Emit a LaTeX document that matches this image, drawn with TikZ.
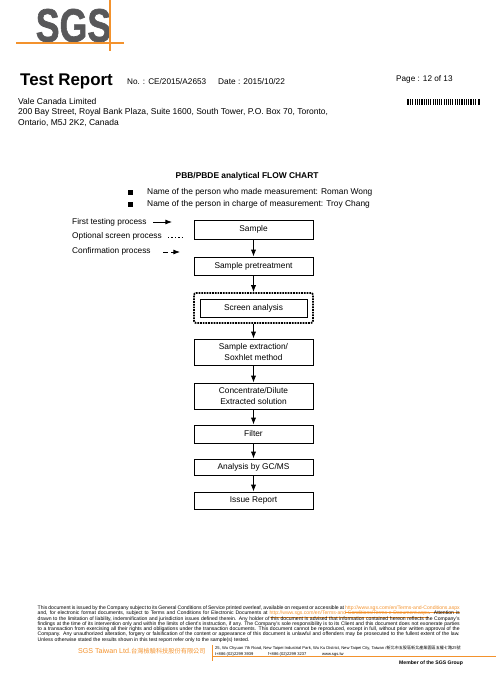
\documentclass[tikz,border=0pt]{standalone}
\usepackage{fontspec}
\setmainfont{Liberation Sans}
\newfontfamily\cjktc{Noto Sans CJK TC}
\newfontfamily\logofont[UprightFont={* Bold},FakeBold=1.5]{Liberation Sans}
\usetikzlibrary{arrows.meta}
\definecolor{sgsorange}{RGB}{243,146,45}
\definecolor{sgsgray}{RGB}{88,88,90}
\newcommand{\fineline}[1]{\makebox[422pt][s]{#1}}
\begin{document}
\begin{tikzpicture}[x=1pt,y=-1pt,every path/.style={>=Latex},
  flowbox/.style={draw,rectangle,line width=0.8pt,minimum width=119pt,inner sep=0pt,align=center,font=\fontsize{8.35}{10.5}\selectfont},
  plain/.style={inner sep=0pt,anchor=west,font=\fontsize{8.5}{10}\selectfont},
  legendtext/.style={plain,font=\fontsize{8.3}{10}\selectfont},
  fine/.style={inner sep=0pt,anchor=west,font=\fontsize{5.1}{6}\selectfont},
  tiny/.style={inner sep=0pt,anchor=west,font=\fontsize{4.1}{5}\selectfont},
  flow/.style={->,line width=0.9pt}]
\useasboundingbox (0,0) rectangle (500,675);
% logo
\node[inner sep=0pt,text=sgsgray] (logo) at (73.5,25.5) {\scalebox{0.76}[1]{\fontsize{47}{47}\logofont SGS}};
\draw[sgsorange,line width=1.2pt] (16,43) -- (124,43);
\draw[sgsorange,line width=1.2pt] (110,0) -- (110,51);
% header
\node[plain,font=\fontsize{16.9}{17}\selectfont\bfseries] (title) at (20,81) {Test Report};
\node[plain,font=\fontsize{8.2}{9}\selectfont] (number) at (127,82) {No. : CE/2015/A2653};
\node[plain,font=\fontsize{8.3}{9}\selectfont] (date) at (218,82) {Date : 2015/10/22};
\node[plain,font=\fontsize{8.2}{9}\selectfont] (page) at (396,79.5) {Page : 12 of 13};
\foreach \xa/\wa in {407/1.6,409.5/1,411.5/1.8,414.5/.8,416.5/1.4,419/.8,421/1.6,424/.8,426/1,428/.8,430/1.4,432.5/.8,434.5/1,436.5/1.6,439/.8,441/1.2,443.5/.8,445.5/1.6,448/.8,450/1,452/1.4,454.5/.8,456.5/1.2,459/.8,461/1.6,463.5/.8,465.5/1.2,468/.8,470/1.6,473/.8,475/1.2,477.5/1,479/1}
  \fill (\xa,99) rectangle ++(\wa,5.5);
\node[plain] (client) at (18,101.5) {Vale Canada Limited};
\node[plain] (addra) at (18,112.5) {200 Bay Street, Royal Bank Plaza, Suite 1600, South Tower, P.O. Box 70, Toronto,};
\node[plain] (addrb) at (18,123) {Ontario, M5J 2K2, Canada};
% chart heading
\node[plain,font=\fontsize{8.4}{9}\selectfont\bfseries] (head) at (175.5,176) {PBB/PBDE analytical FLOW CHART};
\fill (128,189.5) rectangle ++(5,5);
\fill (128,201.5) rectangle ++(5,5);
\node[plain,font=\fontsize{8.4}{10}\selectfont] (made) at (147,192) {Name of the person who made measurement: Roman Wong};
\node[plain,font=\fontsize{8.4}{10}\selectfont] (charge) at (147,204) {Name of the person in charge of measurement: Troy Chang};
% legend
\node[legendtext] (first) at (72,222) {First testing process};
\node[legendtext] (optional) at (72,236.5) {Optional screen process};
\node[legendtext] (confirm) at (72,251) {Confirmation process};
\coordinate (la) at (153,222);
\coordinate (lb) at (172,222);
\coordinate (ma) at (168,237.5);
\coordinate (mb) at (184,237.5);
\coordinate (na) at (163,252);
\coordinate (nb) at (180,252);
\draw[->,line width=0.8pt] (la) -- (lb);
\draw[line width=1.4pt,dotted] (ma) -- (mb);
\draw[->,line width=0.8pt,dash pattern=on 5pt off 3pt] (na) -- (nb);
% flow chart
\node[flowbox,minimum height=19pt] (sample) at (253.5,229.5) {Sample};
\node[flowbox,minimum height=18pt] (pre) at (253.5,266) {Sample pretreatment};
\node[draw,rectangle,rounded corners=2pt,densely dotted,line width=1.7pt,minimum width=119pt,minimum height=30pt,inner sep=0pt] (outer) at (253.5,308) {};
\node[flowbox,minimum width=107pt,minimum height=18pt] (screen) at (253.5,308) {Screen analysis};
\node[flowbox,minimum height=26pt] (extract) at (253.5,352) {Sample extraction/\\Soxhlet method};
\node[flowbox,minimum height=26pt] (conc) at (253.5,396) {Concentrate/Dilute\\Extracted solution};
\node[flowbox,minimum height=18pt] (filter) at (253.5,434) {Filter};
\node[flowbox,minimum height=16pt] (gcms) at (253.5,467) {Analysis by GC/MS};
\node[flowbox,minimum height=17pt] (issue) at (253.5,500.5) {Issue Report};
\draw[flow] (sample) -- (pre);
\draw[flow] (pre) -- (outer);
\draw[flow] (outer) -- (extract);
\draw[flow] (extract) -- (conc);
\draw[flow] (conc) -- (filter);
\draw[flow] (filter) -- (gcms);
\draw[flow] (gcms) -- (issue);
% footer
\node[fine] (fa) at (37.5,609.5) {\fineline{This document is issued by the Company subject to its General Conditions of Service printed overleaf, available on request or accessible at \textcolor{sgsorange}{\underline{http://www.sgs.com/en/Terms-and-Conditions.aspx}}}};
\node[fine] (fb) at (37.5,614.5) {\fineline{and, for electronic format documents, subject to Terms and Conditions for Electronic Documents at \textcolor{sgsorange}{\underline{http://www.sgs.com/en/Terms-and-Conditions/Terms-e-Document.aspx}}. Attention is}};
\node[fine] (fc) at (37.5,619) {\fineline{drawn to the limitation of liability, indemnification and jurisdiction issues defined therein. Any holder of this document is advised that information contained hereon reflects the Company's}};
\node[fine] (fd) at (37.5,624) {\fineline{findings at the time of its intervention only and within the limits of client's instruction, if any. The Company's sole responsibility is to its Client and this document does not exonerate parties}};
\node[fine] (fe) at (37.5,629.5) {\fineline{to a transaction from exercising all their rights and obligations under the transaction documents. This document cannot be reproduced, except in full, without prior written approval of the}};
\node[fine] (ff) at (37.5,634.5) {\fineline{Company. Any unauthorized alteration, forgery or falsification of the content or appearance of this document is unlawful and offenders may be prosecuted to the fullest extent of the law.}};
\node[fine] (fg) at (37.5,640) {Unless otherwise stated the results shown in this test report refer only to the sample(s) tested.};
\node[plain,font=\fontsize{7.1}{8}\selectfont,text=sgsorange] (ltd) at (78,651) {SGS Taiwan Ltd.};
\node[plain,font=\fontsize{6.2}{8}\selectfont\cjktc,text=sgsorange] (ltdcn) at (131,651) {台灣檢驗科技股份有限公司};
\draw[sgsorange,line width=0.9pt] (212,645) -- (212,661);
\draw[sgsorange,line width=0.9pt] (212,656) -- (496,656);
\node[tiny] (fh) at (215,648) {25, Wu Chyuan 7th Road, New Taipei Industrial Park, Wu Ku District, New Taipei City, Taiwan /{\cjktc 新北市五股區新北產業園區五權七路25號}};
\node[tiny] (fi) at (215,654) {\makebox[53pt][l]{t+886 (02)2299 3939}\makebox[54pt][l]{f+886 (02)2299 3237}www.sgs.tw};
\node[fine,font=\fontsize{5.1}{6}\selectfont\bfseries] (member) at (399,663.5) {Member of the SGS Group};
\end{tikzpicture}
\end{document}
